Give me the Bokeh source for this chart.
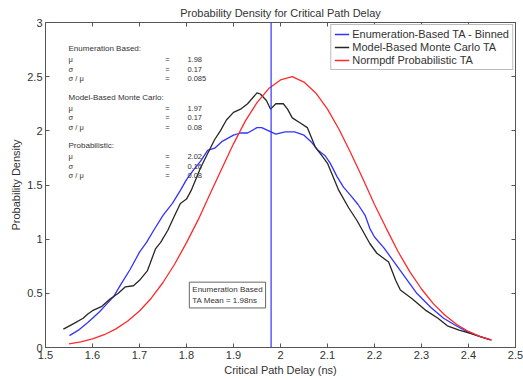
from bokeh.plotting import figure
from bokeh.models import Label, Span, Legend, LegendItem, LinearAxis, FixedTicker, Range1d
from bokeh.embed import file_html
from bokeh.resources import INLINE

# ---- data ----
enum_x = [1.551, 1.57, 1.59, 1.60, 1.615, 1.63, 1.645, 1.66, 1.68, 1.70, 1.715, 1.73, 1.75, 1.77,
          1.787, 1.80, 1.815, 1.83, 1.845, 1.86, 1.875, 1.90, 1.915, 1.93, 1.95, 1.96, 1.975, 1.99,
          2.01, 2.03, 2.05, 2.065, 2.08, 2.095, 2.106, 2.12, 2.134, 2.15, 2.165, 2.18, 2.19, 2.20,
          2.22, 2.24, 2.26, 2.29, 2.32, 2.347, 2.37, 2.40, 2.425, 2.447]
enum_y = [0.11, 0.16, 0.23, 0.27, 0.33, 0.40, 0.47, 0.58, 0.72, 0.88, 0.97, 1.08, 1.22, 1.33,
          1.45, 1.55, 1.64, 1.72, 1.82, 1.84, 1.90, 1.96, 1.98, 1.98, 2.03, 2.03, 2.00, 1.97,
          1.99, 1.99, 1.96, 1.90, 1.82, 1.77, 1.70, 1.58, 1.48, 1.40, 1.32, 1.22, 1.10, 1.02,
          0.92, 0.80, 0.68, 0.50, 0.37, 0.27, 0.21, 0.14, 0.10, 0.07]

mc_x = [1.538, 1.56, 1.58, 1.59, 1.60, 1.62, 1.638, 1.655, 1.67, 1.687, 1.70, 1.717, 1.734, 1.745,
        1.76, 1.775, 1.787, 1.80, 1.81, 1.83, 1.845, 1.86, 1.872, 1.885, 1.90, 1.915, 1.93, 1.95,
        1.957, 1.97, 1.979, 1.99, 2.006, 2.015, 2.025, 2.043, 2.057, 2.074, 2.09, 2.10, 2.124,
        2.145, 2.163, 2.19, 2.205, 2.23, 2.245, 2.255, 2.28, 2.31, 2.335, 2.355, 2.38, 2.404,
        2.425, 2.447]
mc_y = [0.17, 0.22, 0.27, 0.31, 0.34, 0.38, 0.45, 0.50, 0.56, 0.57, 0.62, 0.71, 0.91, 0.97,
        1.08, 1.22, 1.33, 1.37, 1.45, 1.66, 1.79, 1.92, 2.00, 2.10, 2.17, 2.20, 2.25, 2.35,
        2.34, 2.28, 2.20, 2.25, 2.25, 2.20, 2.12, 2.07, 2.03, 1.85, 1.76, 1.70, 1.45,
        1.29, 1.17, 0.96, 0.87, 0.79, 0.62, 0.53, 0.45, 0.34, 0.27, 0.20, 0.16, 0.13,
        0.10, 0.07]

prob_x = [1.55, 1.575, 1.60, 1.625, 1.65, 1.675, 1.70, 1.725, 1.75, 1.775, 1.80, 1.825, 1.85,
          1.875, 1.90, 1.925, 1.95, 1.975, 2.00, 2.025, 2.05, 2.075, 2.10, 2.125, 2.15, 2.175,
          2.20, 2.225, 2.25, 2.275, 2.30, 2.325, 2.35, 2.375, 2.40, 2.425, 2.45]
prob_y = [0.033, 0.052, 0.079, 0.118, 0.172, 0.244, 0.337, 0.455, 0.60, 0.771, 0.968, 1.18, 1.416,
          1.65, 1.88, 2.09, 2.26, 2.39, 2.47, 2.50, 2.45, 2.35, 2.20, 2.01, 1.79, 1.56,
          1.32, 1.10, 0.886, 0.70, 0.54, 0.405, 0.297, 0.212, 0.148, 0.101, 0.067]

enum_mean = 1.98

series_names = ["Enumeration-Based TA - Binned", "Model-Based Monte Carlo TA", "Normpdf Probabilistic TA"]
stat_groups = ["Enumeration Based:", "Model-Based Monte Carlo:", "Probabilistic:"]
stat_symbols = ["\u03bc", "\u03c3", "\u03c3 / \u03bc"]
stat_values = [["1.98", "0.17", "0.085"], ["1.97", "0.17", "0.08"], ["2.02", "0.16", "0.08"]]

x_ticks = [1.5, 1.6, 1.7, 1.8, 1.9, 2.0, 2.1, 2.2, 2.3, 2.4, 2.5]
y_ticks = [0, 0.5, 1, 1.5, 2, 2.5, 3]

FONT = "Liberation Sans"
TXT = "#333333"

p = figure(width=523, height=380, output_backend="svg", toolbar_location=None,
           x_range=Range1d(1.5, 2.5), y_range=Range1d(0, 3),
           min_border_left=45, min_border_right=8, min_border_top=22, min_border_bottom=33,
           title="Probability Density for Critical Path Delay")
p.title.align = "center"
p.title.text_font = FONT
p.title.text_font_size = "11px"
p.title.text_font_style = "normal"
p.title.text_color = TXT
p.title.standoff = 7

p.grid.visible = False
p.outline_line_color = "#555555"
p.background_fill_color = "white"
p.border_fill_color = "white"

for ax in (p.xaxis[0], p.yaxis[0]):
    ax.major_tick_in = 4
    ax.major_tick_out = 0
    ax.minor_tick_line_color = None
    ax.axis_line_color = "#555555"
    ax.major_tick_line_color = "#555555"
    ax.major_label_text_font = FONT
    ax.major_label_text_font_size = "11px"
    ax.major_label_text_color = TXT
    ax.axis_label_text_font = FONT
    ax.axis_label_text_font_size = "11px"
    ax.axis_label_text_font_style = "normal"
    ax.axis_label_text_color = TXT
    ax.major_label_standoff = 3
    ax.axis_label_standoff = 2

p.xaxis.ticker = FixedTicker(ticks=x_ticks)
p.yaxis.ticker = FixedTicker(ticks=y_ticks)
p.xaxis.axis_label = "Critical Path Delay (ns)"
p.yaxis.axis_label = "Probability Density"
p.xaxis.major_label_overrides = {1.5: "1.5", 2.0: "2", 2.5: "2.5"}
p.yaxis.major_label_overrides = {0: "0", 1: "1", 2: "2", 3: "3"}

top = LinearAxis(ticker=FixedTicker(ticks=x_ticks), major_tick_in=4, major_tick_out=0,
                 minor_tick_line_color=None, major_label_text_color=None,
                 major_label_text_font_size="0px",
                 axis_line_color="#555555", major_tick_line_color="#555555",
                 major_label_standoff=0)
right = LinearAxis(ticker=FixedTicker(ticks=y_ticks), major_tick_in=4, major_tick_out=0,
                   minor_tick_line_color=None, major_label_text_color=None,
                   major_label_text_font_size="0px",
                   axis_line_color="#555555", major_tick_line_color="#555555",
                   major_label_standoff=0)
p.add_layout(top, "above")
p.add_layout(right, "right")

r1 = p.line(enum_x, enum_y, line_color="#3333ff", line_width=1.3)
r2 = p.line(mc_x, mc_y, line_color="#262626", line_width=1.3)
r3 = p.line(prob_x, prob_y, line_color="#ff2a2a", line_width=1.3)

p.add_layout(Span(location=enum_mean, dimension="height", line_color="#3333ff", line_width=1.2))

legend = Legend(items=[LegendItem(label=series_names[0], renderers=[r1]),
                       LegendItem(label=series_names[1], renderers=[r2]),
                       LegendItem(label=series_names[2], renderers=[r3])],
                location="top_right", margin=2, padding=3, spacing=1,
                label_text_font=FONT, label_text_font_size="11px", label_text_color=TXT,
                label_height=12, glyph_height=12, glyph_width=15, label_standoff=3,
                border_line_color="#777777", background_fill_alpha=1)
p.add_layout(legend)

# stats text block
group_y = [2.76, 2.31, 1.865]
row_dy = [0.105, 0.19, 0.28]
for g, name in enumerate(stat_groups):
    p.add_layout(Label(x=1.549, y=group_y[g], text=name, text_font=FONT, text_font_size="8px",
                       text_color=TXT, text_baseline="middle"))
    for r, sym in enumerate(stat_symbols):
        yy = group_y[g] - row_dy[r]
        p.add_layout(Label(x=1.549, y=yy, text=sym, text_font=FONT, text_font_size="7.5px",
                           text_color=TXT, text_baseline="middle"))
        p.add_layout(Label(x=1.755, y=yy, text="=", text_font=FONT, text_font_size="7.5px",
                           text_color=TXT, text_baseline="middle"))
        p.add_layout(Label(x=1.802, y=yy, text=stat_values[g][r], text_font=FONT,
                           text_font_size="7.5px", text_color=TXT, text_baseline="middle"))

p.add_layout(Label(x=1.806, y=0.365, text="Enumeration Based\nTA Mean = " + f"{enum_mean:.2f}" + "ns",
                   text_font=FONT, text_font_size="8px", text_color=TXT,
                   border_line_color="#666666", background_fill_color="white",
                   padding=3, text_baseline="bottom"))

open("out.html", "w").write(file_html(p, INLINE))
